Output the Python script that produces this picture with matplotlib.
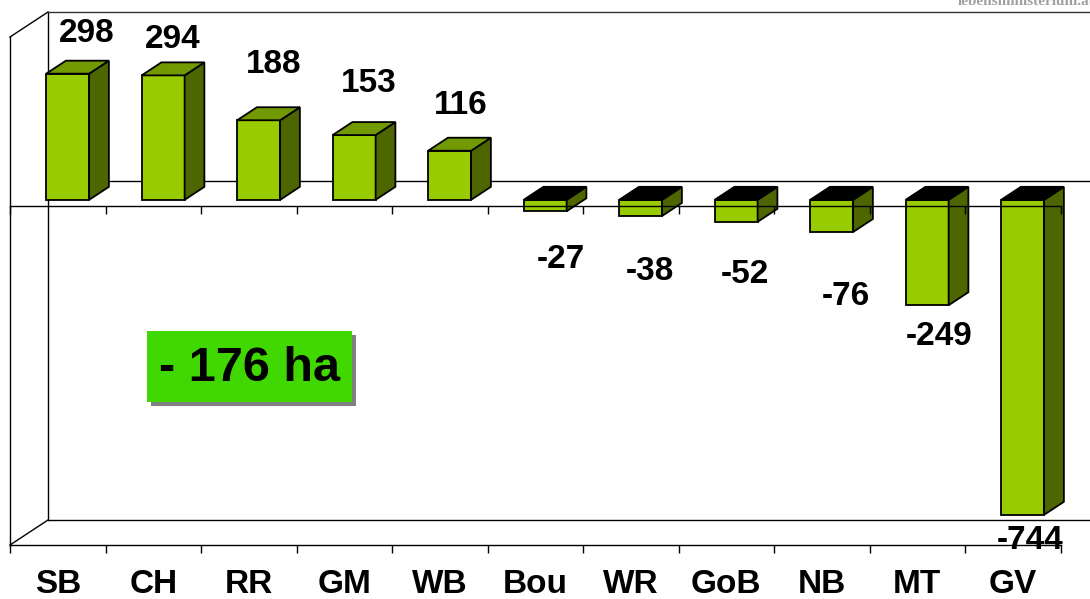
import matplotlib.pyplot as plt
from matplotlib.patches import Polygon, Rectangle

# Data
regions = ['SB', 'CH', 'RR', 'GM', 'WB', 'Bou', 'WR', 'GoB', 'NB', 'MT', 'GV']
change_ha = [298, 294, 188, 153, 116, -27, -38, -52, -76, -249, -744]
total_label = '- 176 ha'

# label nudges, the labels in the original were placed by hand
label_dx = [0.30, 0.20, 0.26, 0.26, 0.22, 0.27, 0.20, 0.20, 0.25, 0.23, 0.18]  # categories
label_dy = [111, 101, 146, 138, 123, -98, -115, -108, -138, -58, -45]  # data units

plt.rcParams['font.family'] = ['Liberation Sans', 'DejaVu Sans']

fig = plt.figure(figsize=(10.9, 5.99), dpi=100)
W, H = 1090.0, 599.0
# front frame of the 3d box: x 10..1060.5 px, y 37..545 px
ax = fig.add_axes([10 / W, (H - 545) / H, 1050.5 / W, 508 / H])
ax.set_facecolor('none')
ax.set_xlim(0, len(regions))
ax.set_ylim(-800, 400)

# depth of the box in data units
dxf = 38 / 95.5
dyf = 25 / (508 / 1200)
ymin, ymax = ax.get_ylim()
n = len(regions)

# back wall and left wall lines
lw = 1.0
back = dict(color='black', lw=lw, clip_on=False, zorder=1)
ax.plot([0, dxf], [ymax, ymax + dyf], **back)
ax.plot([0, dxf], [ymin, ymin + dyf], **back)
ax.plot([dxf, dxf], [ymin + dyf, ymax + dyf], **back)
ax.plot([dxf, n + dxf], [ymax + dyf, ymax + dyf], color='#333333', lw=lw,
        clip_on=False, zorder=1)
ax.plot([dxf, n + dxf], [ymin + dyf, ymin + dyf], **back)
ax.plot([dxf, n + dxf], [dyf, dyf], **back)

# 3d bars
front_c = '#99CC00'
top_c = '#739900'
side_c = '#4D6600'
d0, d1 = 0.26, 0.78
bw = 0.45
ddx = (d1 - d0) * dxf
ddy = (d1 - d0) * dyf
for i, v in enumerate(change_ha):
    x0 = i + (1 - bw) / 2 + d0 * dxf
    x1 = x0 + bw
    yb = d0 * dyf
    yt = v + d0 * dyf
    lo, hi = min(yb, yt), max(yb, yt)
    kw = dict(ec='black', lw=1.3, clip_on=False, zorder=2, joinstyle='miter')
    ax.add_patch(Polygon([(x0, lo), (x1, lo), (x1, hi), (x0, hi)], fc=front_c, **kw))
    ax.add_patch(Polygon([(x1, lo), (x1 + ddx, lo + ddy), (x1 + ddx, hi + ddy), (x1, hi)],
                         fc=side_c, **kw))
    ax.add_patch(Polygon([(x0, hi), (x1, hi), (x1 + ddx, hi + ddy), (x0 + ddx, hi + ddy)],
                         fc=top_c if v > 0 else 'black', **kw))
    ax.text(i + 0.5 + label_dx[i], v + label_dy[i], f'{v}', ha='center', va='center',
            fontsize=24, fontweight='bold', zorder=6)

# front zero line with ticks
ax.plot([0, n], [0, 0], color='black', lw=lw, zorder=3, clip_on=False)
ax.plot(range(n + 1), [0] * (n + 1), ls='none', marker=3, ms=6, mew=lw,
        color='black', zorder=3, clip_on=False)

# axes
for s in ['top', 'right']:
    ax.spines[s].set_visible(False)
for s in ['left', 'bottom']:
    ax.spines[s].set_linewidth(lw)
ax.set_yticks([])
ax.set_xticks(range(n + 1))
ax.set_xticklabels([])
ax.set_xticks([i + 0.5 for i in range(n)], minor=True)
ax.set_xticklabels(regions, minor=True, fontsize=24, fontweight='bold')
ax.tick_params(axis='x', which='major', direction='out', length=6, width=lw)
ax.tick_params(axis='x', which='minor', length=0, pad=17)

# total box with shadow
bx, by, bwid, bht = (147 - 10) / 1050.5, (545 - 402) / 508, 205 / 1050.5, 71 / 508
ax.add_patch(Rectangle((bx + 4 / 1050.5, by - 4 / 508), bwid, bht, transform=ax.transAxes,
                       fc='#808080', ec='none', zorder=4, clip_on=False))
ax.add_patch(Rectangle((bx, by), bwid, bht, transform=ax.transAxes,
                       fc='#40D800', ec='none', zorder=5, clip_on=False))
ax.text(bx + bwid / 2, by + bht / 2 - 0.004, total_label, transform=ax.transAxes,
        ha='center', va='center', fontsize=35, fontweight='bold', zorder=6)

# logo text cut off at the top right, as in the original
fig.text(958 / W, 1 - 5 / H, 'lebensministerium.at', ha='left', va='baseline',
         fontsize=11, family='Liberation Serif', fontweight='bold', color='#a0a0a0')

plt.savefig('out.png', dpi=100)
